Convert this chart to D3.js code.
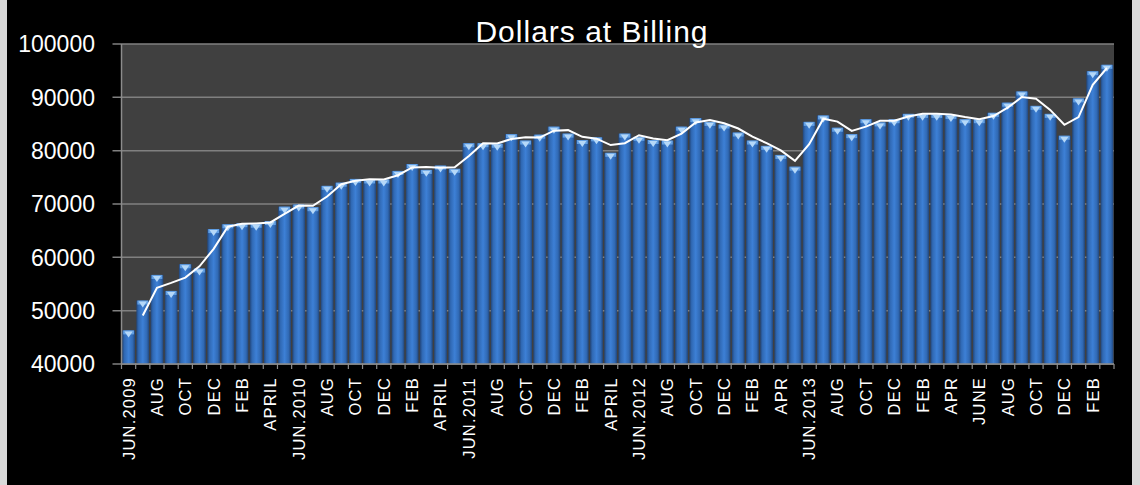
<!DOCTYPE html>
<html>
<head>
<meta charset="utf-8">
<script src="https://cdn.jsdelivr.net/npm/d3@7"></script>
<style>
  html, body { margin: 0; padding: 0; background: #d9d9d9; }
  svg { display: block; }
</style>
</head>
<body>
<div id="chart"></div>
<script>
// monthly billing, Jun 2009 .. Mar 2015
const months = d3.timeMonths(new Date(2009, 5, 1), new Date(2015, 3, 1));
const billing = [
  46300, 51900, 56700, 53700, 58700, 57900, 65300, 66200, 66400, 66300,
  66800, 69500, 69900, 69400, 73400, 74000, 74700, 74600, 74600, 76200,
  77500, 76400, 77200, 76600, 81400, 81400, 81300, 83100, 81900, 83000,
  84500, 83200, 82000, 82500, 79600, 83200, 82600, 82000, 81900, 84500,
  86100, 85400, 84900, 83400, 81900, 80900, 79200, 77000, 85400, 86600,
  84300, 83100, 85900, 85300, 85900, 86900, 86900, 86900, 86700, 85900,
  85900, 87100, 89000, 91100, 88400, 86900, 82800, 89800, 94900, 96100
];
// labels shown on every other month
const tickLabels = [
  "JUN.2009", "AUG", "OCT", "DEC", "FEB", "APRIL",
  "JUN.2010", "AUG", "OCT", "DEC", "FEB", "APRIL",
  "JUN.2011", "AUG", "OCT", "DEC", "FEB", "APRIL",
  "JUN.2012", "AUG", "OCT", "DEC", "FEB", "APR",
  "JUN.2013", "AUG", "OCT", "DEC", "FEB", "APR",
  "JUNE", "AUG", "OCT", "DEC", "FEB"
];
const yTicks = [40000, 50000, 60000, 70000, 80000, 90000, 100000];

const W = 1140, H = 485;
const plot = { left: 121.5, right: 1114, top: 44, bottom: 364 };

const svg = d3.select("#chart").append("svg").attr("width", W).attr("height", H);

// outer frame: light strips left/right, black chart area
svg.append("rect").attr("width", W).attr("height", H).attr("fill", "#d9d9d9");
svg.append("rect").attr("x", 7).attr("y", 0).attr("width", 1125).attr("height", H).attr("fill", "#000");

const defs = svg.append("defs");
const grad = defs.append("linearGradient").attr("id", "barGrad").attr("x1", "0%").attr("x2", "100%");
[["0%", "#22467a"], ["18%", "#3069b4"], ["50%", "#3d80d6"], ["82%", "#3069b4"], ["100%", "#22467a"]]
  .forEach(([o, c]) => grad.append("stop").attr("offset", o).attr("stop-color", c));

const x = d3.scaleBand().domain(months).range([plot.left, plot.right]).paddingInner(0.1).paddingOuter(0.05);
const y = d3.scaleLinear().domain([40000, 100000]).range([plot.bottom, plot.top]);

svg.append("rect")
  .attr("x", plot.left).attr("y", plot.top)
  .attr("width", plot.right - plot.left).attr("height", plot.bottom - plot.top)
  .attr("fill", "#404040");

// gridlines
svg.append("g").selectAll("line").data(yTicks).join("line")
  .attr("x1", plot.left - 9).attr("x2", plot.right)
  .attr("y1", d => y(d)).attr("y2", d => y(d))
  .attr("stroke", "#808080").attr("stroke-width", 1.5);

// y labels
svg.append("g").selectAll("text").data(yTicks).join("text")
  .attr("x", 95).attr("y", d => y(d)).attr("dy", "0.36em")
  .attr("text-anchor", "end").attr("fill", "#fff")
  .style("font-family", "'Liberation Sans', Arial, sans-serif").style("font-size", "23px")
  .text(d => d);

// bars
const bars = svg.append("g").selectAll("g").data(billing).join("g");
bars.append("rect")
  .attr("x", (d, i) => x(months[i])).attr("y", d => y(d))
  .attr("width", x.bandwidth()).attr("height", d => y(40000) - y(d))
  .attr("fill", "url(#barGrad)");
// light top cap
bars.append("rect")
  .attr("x", (d, i) => x(months[i]) + 1).attr("y", d => y(d))
  .attr("width", x.bandwidth() - 2).attr("height", 4)
  .attr("fill", "#63a0e4");
bars.append("path")
  .attr("d", (d, i) => {
    const bx = x(months[i]), bw = x.bandwidth(), ty = y(d) + 1;
    return `M${bx + bw * 0.18},${ty}L${bx + bw * 0.82},${ty}L${bx + bw * 0.5},${ty + 6}Z`;
  })
  .attr("fill", "#b5d8f8");

// x axis
svg.append("line")
  .attr("x1", plot.left).attr("x2", plot.right)
  .attr("y1", plot.bottom).attr("y2", plot.bottom)
  .attr("stroke", "#8c8c8c").attr("stroke-width", 1.5);
svg.append("line")
  .attr("x1", plot.left).attr("x2", plot.left)
  .attr("y1", plot.top).attr("y2", plot.bottom)
  .attr("stroke", "#8c8c8c").attr("stroke-width", 1.5);
svg.append("g").selectAll("line").data(d3.range(months.length + 1)).join("line")
  .attr("x1", i => plot.left + (plot.right - plot.left) * i / months.length)
  .attr("x2", i => plot.left + (plot.right - plot.left) * i / months.length)
  .attr("y1", plot.bottom).attr("y2", plot.bottom + 5)
  .attr("stroke", "#8c8c8c").attr("stroke-width", 1.2);

svg.append("g").selectAll("text").data(tickLabels).join("text")
  .attr("transform", (d, i) => `translate(${x(months[i * 2]) + x.bandwidth() / 2},377) rotate(-90)`)
  .attr("dy", "0.36em")
  .attr("text-anchor", "end").attr("fill", "#fff")
  .style("font-family", "'Liberation Sans', Arial, sans-serif").style("font-size", "16.5px")
  .style("letter-spacing", "1.2px")
  .text(d => d);

// 2-period moving average trendline
const avg = billing.map((v, i) => i === 0 ? null : (v + billing[i - 1]) / 2);
const line = d3.line()
  .defined(d => d !== null)
  .x((d, i) => x(months[i]) + x.bandwidth() / 2)
  .y(d => y(d));
svg.append("path").datum(avg)
  .attr("d", line)
  .attr("fill", "none").attr("stroke", "#fff").attr("stroke-width", 2);

// title
svg.append("text")
  .attr("x", 592).attr("y", 42)
  .attr("text-anchor", "middle").attr("fill", "#fff")
  .style("font-family", "'Liberation Sans', Arial, sans-serif").style("font-size", "30px")
  .style("letter-spacing", "1px")
  .text("Dollars at Billing");
</script>
</body>
</html>
